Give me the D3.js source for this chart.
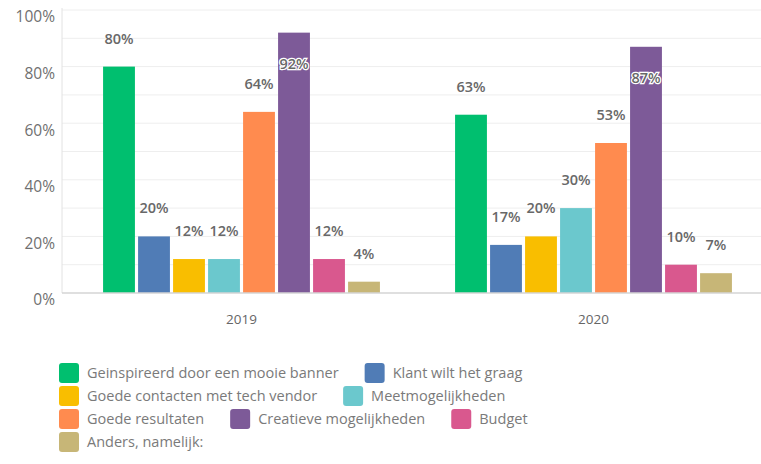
<!DOCTYPE html>
<html>
<head>
<meta charset="utf-8">
<script src="https://cdn.jsdelivr.net/npm/d3@7/dist/d3.min.js"></script>
<style>
  html, body { margin: 0; padding: 0; background: #fff; }
  svg { display: block; }
  text { font-family: "Open Sans", "DejaVu Sans", sans-serif; }
</style>
</head>
<body>
<svg id="chart" width="761" height="464"></svg>
<script>
// Survey answers per year (percent of respondents)
const years = ["2019", "2020"];
const categories = [
  "Geinspireerd door een mooie banner",
  "Klant wilt het graag",
  "Goede contacten met tech vendor",
  "Meetmogelijkheden",
  "Goede resultaten",
  "Creatieve mogelijkheden",
  "Budget",
  "Anders, namelijk:"
];
const values2019 = [80, 20, 12, 12, 64, 92, 12, 4];
const values2020 = [63, 17, 20, 30, 53, 87, 10, 7];
const colors = ["#00bf6f", "#507cb6", "#f9be00", "#6bc8cd", "#ff8b4f", "#7d5a98", "#d9588e", "#c7b677"];
const yTicks = [0, 20, 40, 60, 80, 100];
const gridTicks = [0, 10, 20, 30, 40, 50, 60, 70, 80, 90, 100];

const seriesByYear = { "2019": values2019, "2020": values2020 };

const svg = d3.select("#chart");

const plotLeft = 62, plotRight = 761, plotTop = 10, plotBottom = 293;

const y = d3.scaleLinear().domain([0, 100]).range([plotBottom, plotTop]);
const x0 = d3.scaleBand().domain(years).range([65.5, 769.5]).padding(0);
const x1 = d3.scaleBand().domain(categories)
  .range([36, x0.bandwidth() - 36])
  .paddingInner(0.09).paddingOuter(0.045);
const color = d3.scaleOrdinal().domain(categories).range(colors);

// light horizontal gridlines
svg.append("g")
  .selectAll("line")
  .data(gridTicks.filter(d => d > 0))
  .join("line")
  .attr("x1", plotLeft).attr("x2", plotRight)
  .attr("y1", d => y(d)).attr("y2", d => y(d))
  .attr("stroke", "#eeeeee").attr("stroke-width", 1);

// vertical axis line
svg.append("line")
  .attr("x1", plotLeft).attr("x2", plotLeft)
  .attr("y1", plotTop - 2).attr("y2", plotBottom)
  .attr("stroke", "#e2e2e2");

// y tick labels
const yAxis = d3.axisLeft(y).tickValues(yTicks).tickFormat(d => d + "%").tickSize(0).tickPadding(0);
const yg = svg.append("g").attr("transform", "translate(55,0)").call(yAxis);
yg.select(".domain").remove();
yg.selectAll("text")
  .attr("dy", "0.32em")
  .attr("y", 7)
  .attr("fill", "#707070")
  .style("font-size", "15.5px")
  .style("font-family", "\"Open Sans\", sans-serif");

// bars
const groups = svg.append("g")
  .selectAll("g")
  .data(years)
  .join("g")
  .attr("transform", d => `translate(${x0(d)},0)`);

const barData = yr => categories.map((c, i) => ({ cat: c, value: seriesByYear[yr][i] }));

groups.selectAll("rect")
  .data(d => barData(d))
  .join("rect")
  .attr("x", d => x1(d.cat))
  .attr("width", x1.bandwidth())
  .attr("y", d => y(d.value))
  .attr("height", d => y(0) - y(d.value))
  .attr("fill", d => color(d.cat));

// value labels: above the bar, or inside near the top for the tallest bars
groups.selectAll("text.val")
  .data(d => barData(d))
  .join("text")
  .attr("class", "val")
  .attr("x", d => x1(d.cat) + x1.bandwidth() / 2)
  .attr("y", d => d.value > 85 ? y(d.value) + 31 : y(d.value) - 28)
  .attr("dy", "0.35em")
  .attr("text-anchor", "middle")
  .attr("fill", "#686868")
  .attr("stroke", d => d.value > 85 ? "#ffffff" : "none")
  .attr("stroke-width", 2.5)
  .attr("paint-order", "stroke")
  .style("font-size", "14.5px")
  .style("font-weight", "600")
  .text(d => d.value + "%");

// baseline
svg.append("line")
  .attr("x1", plotLeft).attr("x2", plotRight)
  .attr("y1", y(0)).attr("y2", y(0))
  .attr("stroke", "#d4d4d4").attr("stroke-width", 1.5);

// x axis year labels
const xAxis = d3.axisBottom(x0).tickSize(0).tickPadding(0);
const xg = svg.append("g").attr("transform", `translate(0,${plotBottom + 26})`).call(xAxis);
xg.select(".domain").remove();
xg.selectAll("text")
  .attr("dy", "0.35em")
  .attr("fill", "#666")
  .style("font-size", "13.5px")
  .style("font-family", "\"Open Sans\", sans-serif");

// legend, flowing left to right and wrapping
const legend = svg.append("g").attr("class", "legend");
const legendLeft = 59, legendMaxX = 640, rowTop = 363, rowStep = 23;
const swatch = 20, swatchGap = 8, itemGap = 26;
let lx = legendLeft, row = 0;
categories.forEach((c, i) => {
  const item = legend.append("g");
  const label = item.append("text")
    .attr("x", swatch + swatchGap)
    .attr("y", swatch / 2)
    .attr("dy", "0.35em")
    .attr("fill", "#7a7a7a")
    .style("font-size", "14.5px")
    .text(c);
  const w = swatch + swatchGap + label.node().getComputedTextLength();
  if (lx > legendLeft && lx + w > legendMaxX) { lx = legendLeft; row += 1; }
  item.attr("transform", `translate(${lx},${rowTop + row * rowStep})`);
  item.insert("rect", "text")
    .attr("width", swatch).attr("height", swatch)
    .attr("rx", 3).attr("ry", 3)
    .attr("fill", color(c));
  lx += w + itemGap;
});
</script>
</body>
</html>
